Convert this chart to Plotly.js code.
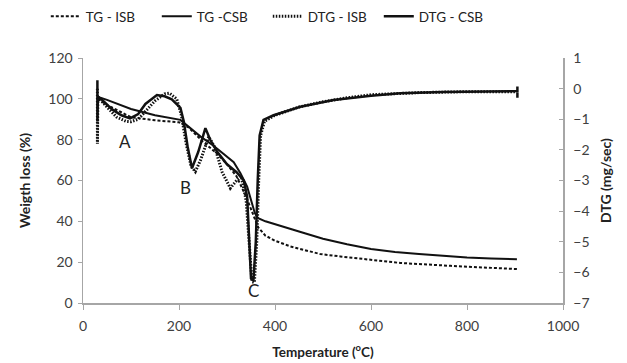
<!DOCTYPE html>
<html>
<head>
<meta charset="utf-8">
<script src="https://cdn.plot.ly/plotly-3.0.1.min.js"></script>
<style>html,body{margin:0;padding:0;background:#fff;}#chart{width:627px;height:363px;}</style>
</head>
<body>
<div id="chart"></div>
<script>
// TG curves (weight %, left axis)
const tgIsbX = [30, 50, 100, 150, 200, 220, 250, 280, 300, 320, 340, 355, 365, 380, 400, 432, 494, 536, 600, 661, 766, 850, 904];
const tgIsbY = [100, 97, 91, 89.5, 88.5, 86, 79, 73, 68, 62, 52, 43, 37, 33, 30.5, 27.7, 24, 22.8, 21, 19.6, 18.2, 17.2, 16.6];
const tgCsbX = [30, 50, 100, 150, 203, 245, 272, 314, 328, 342, 358, 365, 380, 400, 450, 500, 550, 600, 650, 700, 750, 800, 850, 904];
const tgCsbY = [101, 99.5, 95, 92, 89.7, 81.5, 77, 69, 63.6, 57, 44, 41.5, 40, 38.5, 35, 31.5, 28.8, 26.5, 25, 24, 23, 22.3, 21.8, 21.4];
// DTG curves (mg/sec, right axis)
const dtgIsbX = [30, 30, 31, 50, 70, 90, 100, 115, 130, 150, 170, 180, 195, 205, 215, 225, 234, 245, 262, 275, 290, 307, 320, 330, 340, 347, 352, 357, 362, 366, 370, 378, 400, 450, 500, 550, 600, 700, 800, 900];
const dtgIsbY = [0.0, -1.8, -0.27, -0.6, -0.93, -1.07, -1.08, -1.0, -0.73, -0.4, -0.17, -0.15, -0.33, -0.87, -1.8, -2.53, -2.71, -2.33, -1.57, -1.93, -2.73, -3.25, -3.0, -2.87, -3.67, -5.33, -6.3, -6.33, -5.0, -3.0, -1.53, -1.07, -0.87, -0.6, -0.43, -0.3, -0.2, -0.13, -0.1, -0.1];
const dtgCsbX = [30, 30, 31, 40, 60, 80, 98, 115, 130, 154, 170, 185, 203, 210, 218, 227, 240, 255, 265, 280, 300, 320, 335, 342, 347, 350, 355, 360, 364, 368, 376, 397, 453, 522, 600, 661, 750, 850, 905, 905, 905];
const dtgCsbY = [0.27, -1.07, -0.27, -0.37, -0.67, -0.87, -0.97, -0.83, -0.5, -0.21, -0.25, -0.35, -0.63, -1.07, -1.9, -2.6, -2.07, -1.29, -1.67, -2.07, -2.47, -2.73, -3.0, -3.53, -5.0, -6.2, -6.27, -5.0, -3.0, -1.53, -1.02, -0.87, -0.59, -0.37, -0.23, -0.15, -0.11, -0.09, -0.08, 0.07, -0.3];
const seriesNames = ["TG - ISB", "TG -CSB", "DTG - ISB", "DTG - CSB"];
const xTicks = [0, 200, 400, 600, 800, 1000];
const yTicks = [0, 20, 40, 60, 80, 100, 120];
const y2Ticks = [-7, -6, -5, -4, -3, -2, -1, 0, 1];
const labelText = ["A", "B", "C"];
const labelX = [88, 213, 355];
const labelY = [79, 56.4, 6];

const txt = '#404040';
const ax = '#a6a6a6';
const traces = [
  {x: tgIsbX, y: tgIsbY, name: seriesNames[0], mode: 'lines', line: {color: '#111', width: 2, dash: '3px,2px'}, yaxis: 'y'},
  {x: tgCsbX, y: tgCsbY, name: seriesNames[1], mode: 'lines', line: {color: '#111', width: 2}, yaxis: 'y'},
  {x: dtgIsbX, y: dtgIsbY, name: seriesNames[2], mode: 'lines', line: {color: '#111', width: 3, dash: '1.5px,1.5px'}, yaxis: 'y2'},
  {x: dtgCsbX, y: dtgCsbY, name: seriesNames[3], mode: 'lines', line: {color: '#111', width: 2.5}, yaxis: 'y2'}
];
const annotations = labelText.map((t, i) => ({
  x: labelX[i], y: labelY[i], xref: 'x', yref: 'y', text: t, showarrow: false,
  font: {family: 'Lato, sans-serif', size: 17, color: '#222'}
}));
const layout = {
  width: 627, height: 363,
  margin: {l: 83, r: 64, t: 58, b: 60, autoexpand: false},
  paper_bgcolor: '#fff', plot_bgcolor: '#fff',
  font: {family: 'Lato, sans-serif', color: txt},
  showlegend: true,
  legend: {orientation: 'h', xref: 'paper', x: 0.385, xanchor: 'center', yref: 'container', y: 0.997, yanchor: 'top',
    font: {family: 'Lato, sans-serif', size: 13.5, color: '#222'}, entrywidth: 66, tracegroupgap: 0},
  xaxis: {range: [0, 1000], tickvals: xTicks, showgrid: false, zeroline: false,
    showline: true, linecolor: ax, linewidth: 1.5, ticks: 'outside', ticklen: 5, tickcolor: ax,
    tickfont: {size: 14, color: txt}, ticklabelstandoff: 5,
    title: {text: '<b>Temperature (<sup>o</sup>C)</b>', font: {size: 13.5, color: '#222'}, standoff: 14}},
  yaxis: {range: [0, 120], tickvals: yTicks, showgrid: false, zeroline: false,
    showline: true, linecolor: ax, linewidth: 1.5, ticks: 'outside', ticklen: 4, tickcolor: ax,
    tickfont: {size: 14, color: txt}, ticklabelstandoff: 2,
    title: {text: '<b>Weigth loss (%)</b>', font: {size: 14, color: '#222'}, standoff: 14}},
  yaxis2: {range: [-7, 1], tickvals: y2Ticks, overlaying: 'y', side: 'right', showgrid: false, zeroline: false,
    showline: true, linecolor: ax, linewidth: 1.5, ticks: 'inside', ticklen: 4, tickcolor: ax,
    tickfont: {size: 14, color: txt}, ticklabelstandoff: 6,
    title: {text: '<b>DTG (mg/sec)</b>', font: {size: 14, color: '#222'}, standoff: 12}},
  annotations: annotations
};
Plotly.newPlot('chart', traces, layout, {displayModeBar: false, staticPlot: true});
</script>
</body>
</html>
